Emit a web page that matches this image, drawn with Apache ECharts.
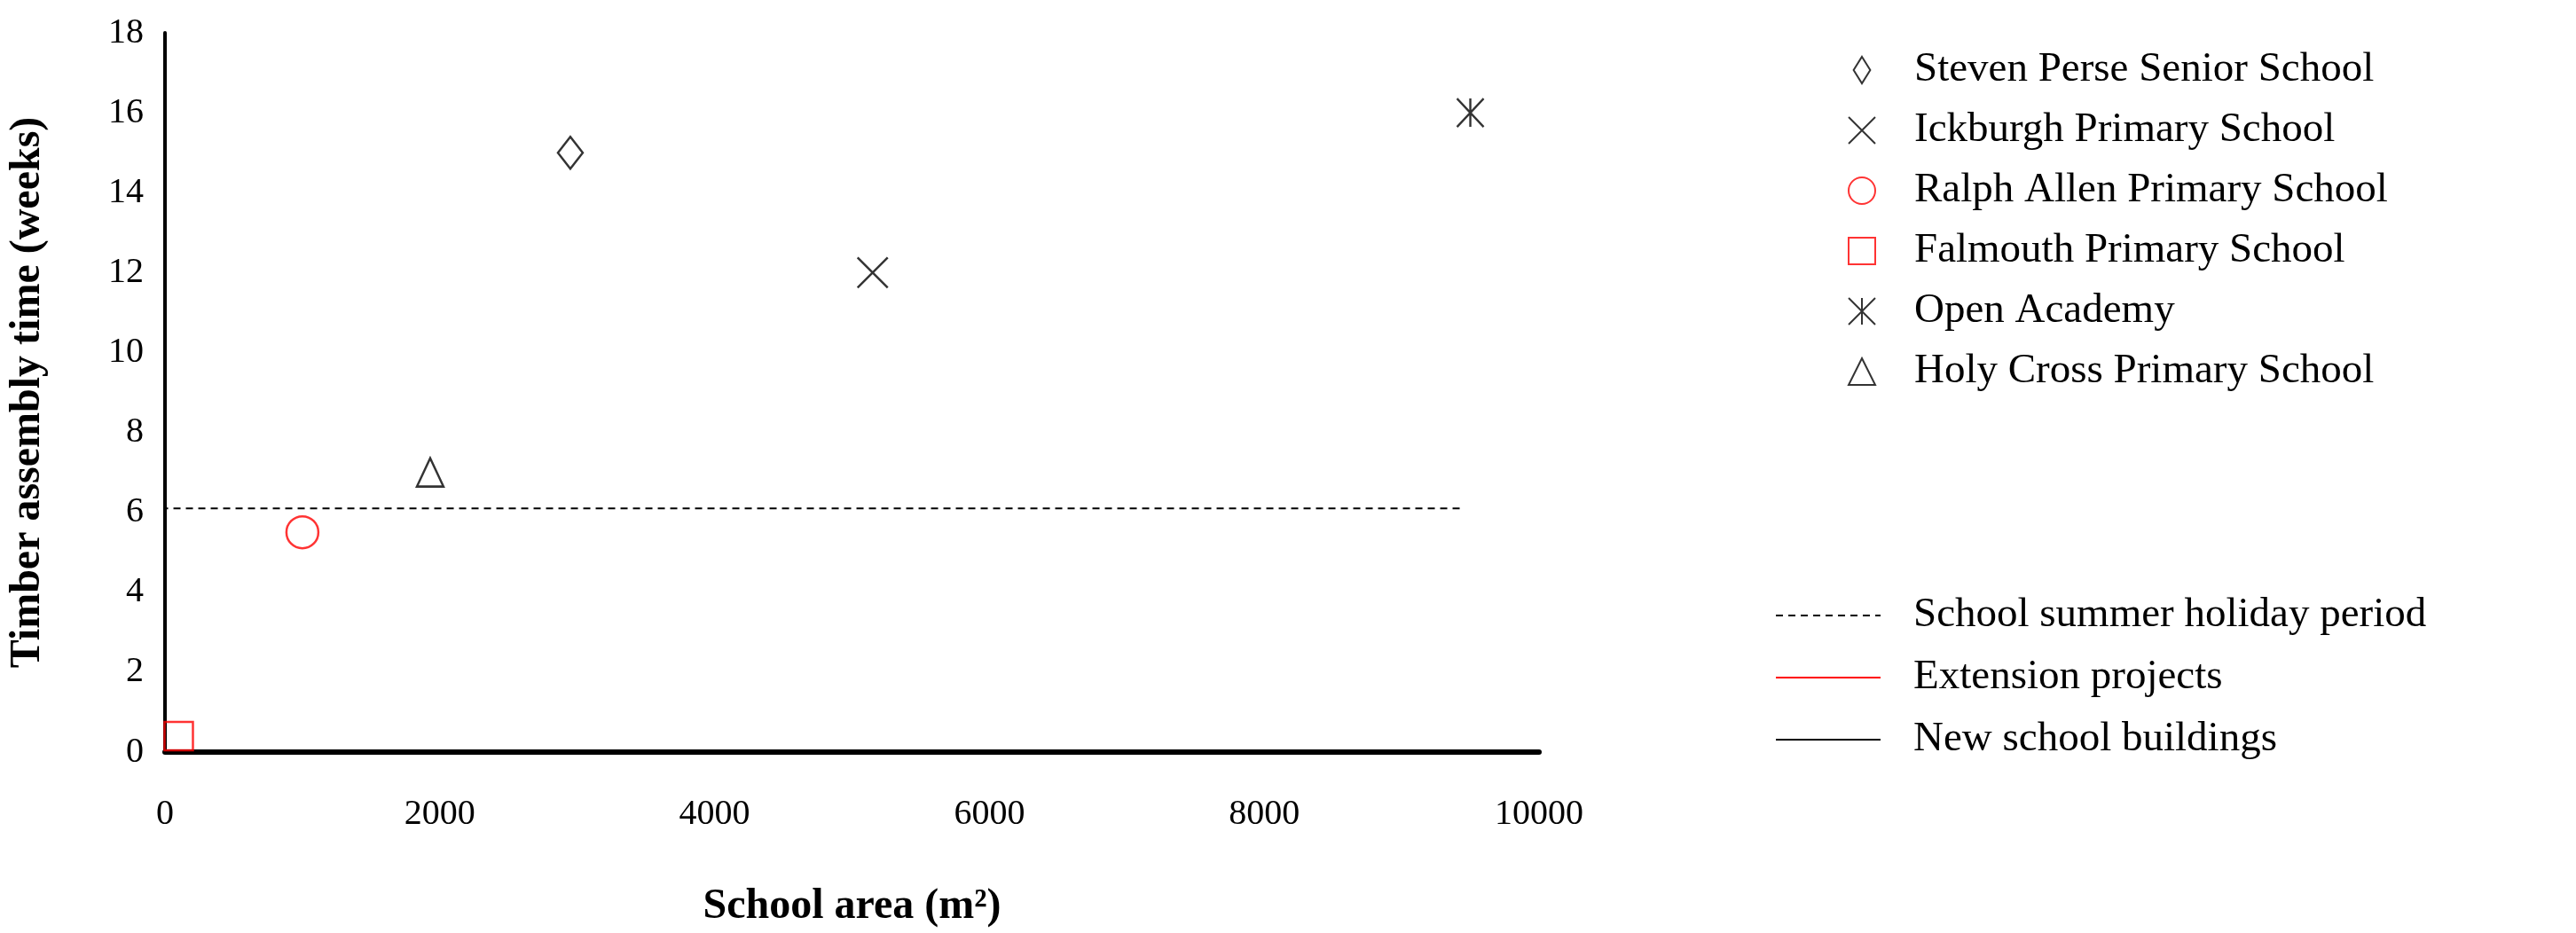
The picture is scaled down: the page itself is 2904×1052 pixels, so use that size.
<!DOCTYPE html><html><head><meta charset="utf-8"><script src="https://cdn.jsdelivr.net/npm/echarts@6/dist/echarts.min.js"></script>
<style>html,body{margin:0;background:#fff}#c{width:2904px;height:1052px}</style></head><body><div id="c"></div><script>
const schools=['Steven Perse Senior School','Ickburgh Primary School','Ralph Allen Primary School','Falmouth Primary School','Open Academy','Holy Cross Primary School'];
const areas=[2950,5150,1000,100,9500,1930];
const weeks=[15,12,5.5,0.4,16,7];
const colors=['#000','#000','#f00','#f00','#000','#000'];
const symbols=['path://M5,0L10,8L5,16L0,8Z','path://M0,0L10,10M10,0L0,10','circle','rect','path://M0,0L10,10M10,0L0,10M5,0L5,10','path://M5,0L10,10L0,10Z'];
const sizes=[[28,36],[34,34],[36,36],[32,32],[30,32],[30,32]];
const holidayX=[-300,9450],holidayY=6.1;
const lineNames=['School summer holiday period','Extension projects','New school buildings'];
const F='"Liberation Serif","Times New Roman",serif';
const series=schools.map((n,i)=>({name:n,type:'scatter',symbol:symbols[i],symbolSize:sizes[i],
 data:[[areas[i],weeks[i]]],itemStyle:{color:'rgba(255,255,255,0)',borderColor:colors[i],borderWidth:2.5}}));
const tr='rgba(0,0,0,0)';
series.push({name:lineNames[0],type:'line',symbol:'none',data:holidayX.map(x=>[x,holidayY]),itemStyle:{color:tr},lineStyle:{color:'#000',type:[8,6],width:2}});
series.push({name:lineNames[1],type:'line',symbol:'none',data:[],itemStyle:{color:tr},lineStyle:{color:'#f00',width:2.5}});
series.push({name:lineNames[2],type:'line',symbol:'none',data:[],itemStyle:{color:tr},lineStyle:{color:'#000',width:2.5}});
const ch=echarts.init(document.getElementById('c'));
ch.setOption({animation:false,
 grid:{left:178,right:1169,top:37,bottom:185},
 xAxis:{type:'value',min:0,max:10000,interval:2000,splitLine:{show:false},axisTick:{show:false},
  axisLine:{onZero:false,lineStyle:{color:'#000',width:6}},axisLabel:{color:'#000',fontFamily:F,fontSize:40,margin:50,formatter:v=>String(v)},
  name:'School area (m²)',nameLocation:'middle',nameGap:151,nameTextStyle:{color:'#000',fontFamily:F,fontSize:48,fontWeight:'bold'}},
 yAxis:{type:'value',min:0,max:18,interval:2,splitLine:{show:false},axisTick:{show:false},
  axisLine:{lineStyle:{color:'#000',width:4}},axisLabel:{color:'#000',fontFamily:F,fontSize:40,margin:24},
  name:'Timber assembly time (weeks)',nameLocation:'middle',nameGap:130,nameTextStyle:{color:'#000',fontFamily:F,fontSize:48,fontWeight:'bold'}},
 legend:[{data:schools,orient:'vertical',left:2078,top:50,itemWidth:30,itemHeight:30,itemGap:20,
   textStyle:{fontFamily:F,fontSize:47,color:'#000',lineHeight:48,padding:[0,0,0,39]}},
  {data:lineNames,orient:'vertical',left:1996,top:665,itemWidth:118,itemHeight:30,itemGap:22,
   textStyle:{fontFamily:F,fontSize:47,color:'#000',lineHeight:48,padding:[0,0,0,32]}}],
 series});
</script></body></html>
